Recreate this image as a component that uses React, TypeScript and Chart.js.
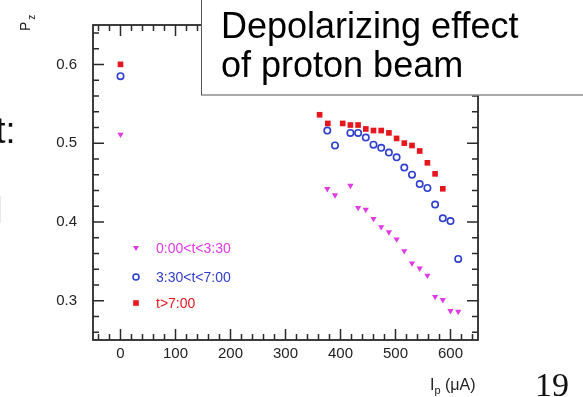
import React, { useEffect, useRef } from 'react';
import { Chart, registerables } from 'chart.js';

Chart.register(...registerables);

// ---- data ----
const redX = [0, 362, 377, 404, 418, 432, 446, 460, 474, 488, 502, 516, 530, 544, 558, 572, 586];
const redY = [0.600, 0.536, 0.525, 0.525, 0.523, 0.523, 0.518, 0.516, 0.516, 0.513, 0.506, 0.500, 0.497, 0.490, 0.475, 0.461, 0.442];

const blueX = [0, 376, 390, 418, 432, 446, 460, 474, 488, 502, 516, 530, 544, 558, 572, 586, 600, 614];
const blueY = [0.585, 0.516, 0.497, 0.513, 0.513, 0.507, 0.498, 0.494, 0.488, 0.482, 0.469, 0.460, 0.448, 0.443, 0.422, 0.4045, 0.401, 0.353];

const magX = [0, 376, 390, 418, 432, 446, 460, 474, 488, 502, 516, 530, 544, 558, 572, 586, 600, 614];
const magY = [0.511, 0.442, 0.434, 0.446, 0.418, 0.4155, 0.404, 0.3935, 0.387, 0.378, 0.363, 0.3475, 0.341, 0.332, 0.305, 0.301, 0.287, 0.286];

const seriesLabels = ['0:00<t<3:30', '3:30<t<7:00', 't>7:00'];

const xMajorTicks = [0, 100, 200, 300, 400, 500, 600];
const xMinorTicks = [-40, -20, 20, 40, 60, 80, 120, 140, 160, 180, 220, 240, 260, 280, 320, 340, 360, 380, 420, 440, 460, 480, 520, 540, 560, 580, 620, 640];
const yMajorTicks = [0.3, 0.4, 0.5, 0.6];
const yMinorTicks = [0.26, 0.28, 0.32, 0.34, 0.36, 0.38, 0.42, 0.44, 0.46, 0.48, 0.52, 0.54, 0.56, 0.58, 0.62, 0.64];

const titleLines = ['Depolarizing effect', 'of proton beam'];

const SANS = '"Liberation Sans", Arial, Helvetica, sans-serif';
const SERIF = '"Liberation Serif", "Times New Roman", serif';

const MAGENTA = '#e03ae4';
const BLUE = '#2f3fcc';
const RED = '#e6161e';

const toPts = (xs: number[], ys: number[]) => xs.map((x, i) => ({ x, y: ys[i] }));

const framePlugin = {
  id: 'frameTicks',
  beforeDatasetsDraw(chart: any) {
    const { ctx, chartArea: a, scales } = chart;
    const x = scales.x;
    const y = scales.y;
    ctx.save();
    ctx.strokeStyle = '#2a2a2a';
    ctx.lineWidth = 1.8;
    ctx.strokeRect(a.left, a.top, a.right - a.left, a.bottom - a.top);
    ctx.beginPath();
    const xt = (v: number, len: number) => {
      const p = x.getPixelForValue(v);
      ctx.moveTo(p, a.bottom);
      ctx.lineTo(p, a.bottom - len);
      ctx.moveTo(p, a.top);
      ctx.lineTo(p, a.top + len);
    };
    const yt = (v: number, len: number) => {
      const p = y.getPixelForValue(v);
      ctx.moveTo(a.left, p);
      ctx.lineTo(a.left + len, p);
      ctx.moveTo(a.right, p);
      ctx.lineTo(a.right - len, p);
    };
    xMajorTicks.forEach((v) => xt(v, 11));
    xMinorTicks.forEach((v) => xt(v, 6));
    yMajorTicks.forEach((v) => yt(v, 11));
    yMinorTicks.forEach((v) => yt(v, 6));
    ctx.lineWidth = 1.5;
    ctx.stroke();
    ctx.restore();
  },
  afterDraw(chart: any) {
    const { ctx } = chart;
    ctx.save();

    // legend inside plot
    const lx = 136;
    const rows = [248, 277, 303];
    const colors = [MAGENTA, BLUE, RED];
    ctx.fillStyle = MAGENTA;
    ctx.beginPath();
    ctx.moveTo(lx - 3, rows[0] - 2);
    ctx.lineTo(lx + 3, rows[0] - 2);
    ctx.lineTo(lx, rows[0] + 3);
    ctx.closePath();
    ctx.fill();
    ctx.strokeStyle = BLUE;
    ctx.lineWidth = 1.6;
    ctx.beginPath();
    ctx.arc(lx, rows[1], 3, 0, Math.PI * 2);
    ctx.stroke();
    ctx.fillStyle = RED;
    ctx.fillRect(lx - 2.8, rows[2] - 2.8, 5.6, 5.6);

    ctx.font = `14px ${SANS}`;
    ctx.textBaseline = 'middle';
    ctx.textAlign = 'left';
    seriesLabels.forEach((t, i) => {
      ctx.fillStyle = colors[i];
      ctx.fillText(t, 156, rows[i] + 1);
    });

    // y axis title P_z (rotated)
    ctx.save();
    ctx.translate(30, 31);
    ctx.rotate(-Math.PI / 2);
    ctx.fillStyle = '#222';
    ctx.textBaseline = 'alphabetic';
    ctx.font = `14px ${SANS}`;
    ctx.fillText('P', 0, 0);
    const pw = ctx.measureText('P').width;
    ctx.font = `10px ${SANS}`;
    ctx.fillText('z', pw + 2, 5);
    ctx.restore();

    // x axis title I_p (μA)
    ctx.fillStyle = '#222';
    ctx.textBaseline = 'alphabetic';
    ctx.font = `16px ${SANS}`;
    ctx.fillText('I', 430, 389.5);
    let cx = 430 + ctx.measureText('I').width;
    ctx.font = `11px ${SANS}`;
    ctx.fillText('p', cx, 394);
    cx += ctx.measureText('p').width;
    ctx.font = `16px ${SANS}`;
    ctx.fillText(' (\u03bcA)', cx, 389.5);

    // page number
    ctx.fillStyle = '#111';
    ctx.font = `34px ${SERIF}`;
    ctx.fillText('19', 535, 396);

    // cut-off slide text on the left
    ctx.fillStyle = '#111';
    ctx.font = `36px ${SANS}`;
    ctx.textAlign = 'right';
    ctx.fillText('t:', 15.5, 143);
    ctx.fillText('l', 2.5, 223);
    ctx.textAlign = 'left';

    // title box
    ctx.fillStyle = '#fff';
    ctx.fillRect(201.5, -3, 400, 98.5);
    ctx.strokeStyle = '#555';
    ctx.lineWidth = 1;
    ctx.strokeRect(201.5, -3, 400, 98);
    ctx.fillStyle = '#000';
    ctx.font = `36px ${SANS}`;
    ctx.fillText(titleLines[0], 221, 38);
    ctx.fillText(titleLines[1], 221, 77);

    ctx.restore();
  },
};

export default function App() {
  const ref = useRef<HTMLCanvasElement | null>(null);
  useEffect(() => {
    if (!ref.current) return;
    const chart = new Chart(ref.current, {
      type: 'scatter',
      data: {
        datasets: [
          {
            label: seriesLabels[0],
            data: toPts(magX, magY),
            pointStyle: 'triangle',
            rotation: 180,
            pointRadius: 3.6,
            backgroundColor: MAGENTA,
            borderColor: MAGENTA,
            borderWidth: 0,
          },
          {
            label: seriesLabels[1],
            data: toPts(blueX, blueY),
            pointStyle: 'circle',
            pointRadius: 3.2,
            backgroundColor: 'rgba(0,0,0,0)',
            borderColor: BLUE,
            borderWidth: 1.6,
          },
          {
            label: seriesLabels[2],
            data: toPts(redX, redY),
            pointStyle: 'rect',
            pointRadius: 4,
            backgroundColor: RED,
            borderColor: RED,
            borderWidth: 0,
          },
        ],
      },
      options: {
        animation: false,
        responsive: false,
        events: [],
        layout: { padding: { top: 13, right: 105, left: 0, bottom: 0 } },
        plugins: { legend: { display: false }, tooltip: { enabled: false } },
        scales: {
          x: {
            type: 'linear',
            min: -50,
            max: 650,
            afterBuildTicks: (s: any) => {
              s.ticks = xMajorTicks.map((v) => ({ value: v }));
            },
            afterFit: (s: any) => {
              s.height = 57;
            },
            grid: { display: false, drawTicks: false },
            border: { display: false },
            ticks: {
              padding: 5,
              color: '#222',
              font: { family: SANS, size: 15 },
              callback: (v: any) => String(v),
              maxRotation: 0,
              autoSkip: false,
            },
          },
          y: {
            type: 'linear',
            min: 0.25,
            max: 0.65,
            afterBuildTicks: (s: any) => {
              s.ticks = yMajorTicks.map((v) => ({ value: v }));
            },
            afterFit: (s: any) => {
              s.width = 93;
            },
            grid: { display: false, drawTicks: false },
            border: { display: false },
            ticks: {
              padding: 16,
              color: '#222',
              font: { family: SANS, size: 15 },
              callback: (v: any) => Number(v).toFixed(1),
              autoSkip: false,
            },
          },
        },
      },
      plugins: [framePlugin],
    });
    return () => chart.destroy();
  }, []);
  return (
    <div style={{ position: 'fixed', left: 0, top: 0, width: 583, height: 397, background: '#fff' }}>
      <canvas ref={ref} width={583} height={397} style={{ display: 'block' }} />
    </div>
  );
}
